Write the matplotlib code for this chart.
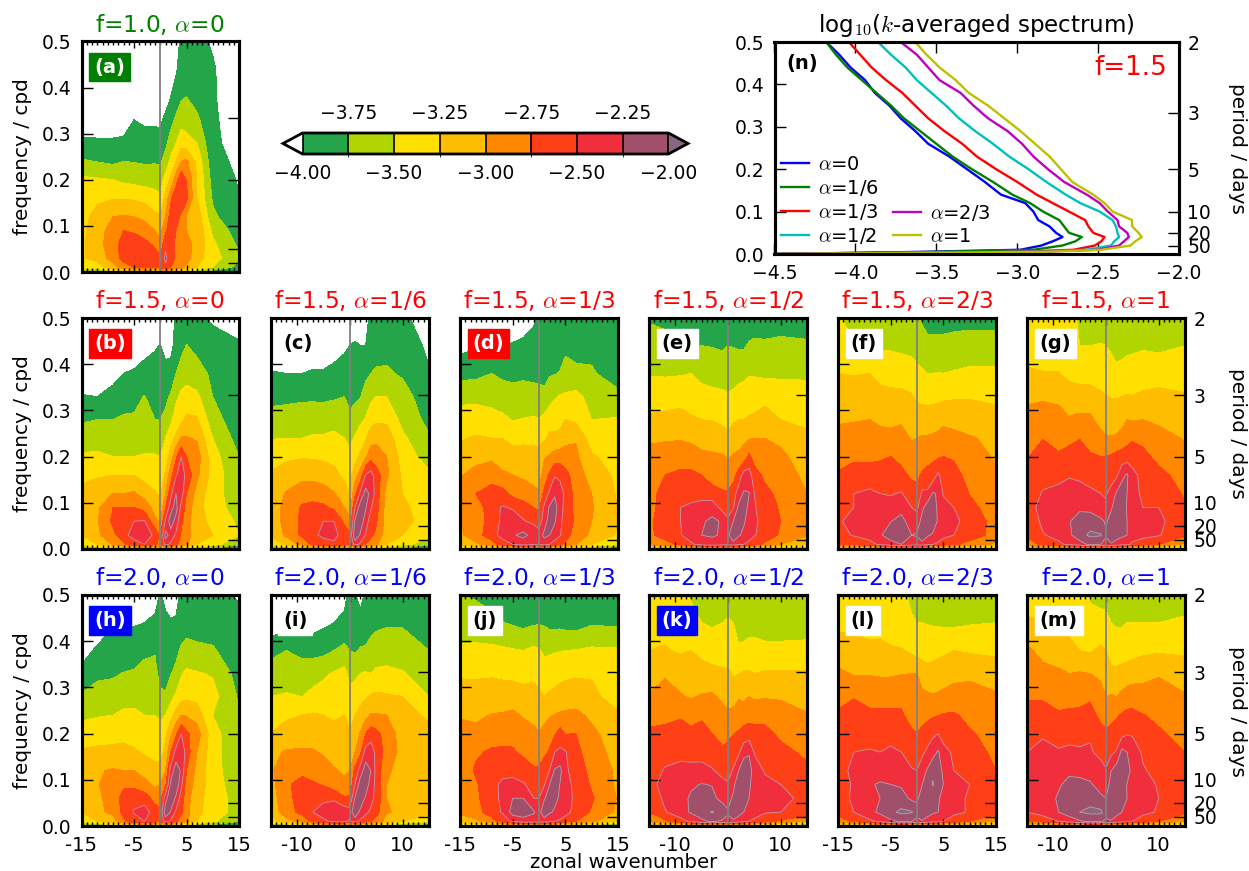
#!/usr/bin/env python3
"""Spectra panels: log10 power against zonal wavenumber and frequency"""

import numpy as np
import matplotlib
matplotlib.use('Agg')
import matplotlib.pyplot as plt
from matplotlib.colors import ListedColormap, BoundaryNorm

plt.rcParams['font.family'] = 'DejaVu Sans'
plt.rcParams['mathtext.fontset'] = 'cm'
plt.rcParams['axes.unicode_minus'] = False

W, H = 1249, 871

wavenumber = [-15, -12, -9, -7, -5, -3, -1, 0, 1, 2, 3, 4, 5, 7, 10, 15]
frequency = [.5, .44, .38, .33, .28, .24, .2, .16, .12, .09, .06, .03, .01, 0]

# values are -100*log10(power), rows run from f=0.5 down to f=0
a_vals = [
    [460, 460, 460, 460, 460, 460, 460, 450, 440, 425, 410, 395, 395, 395, 402, 420],
    [450, 450, 450, 450, 450, 450, 440, 430, 420, 410, 403, 390, 385, 392, 398, 415],
    [435, 435, 435, 435, 425, 425, 420, 415, 410, 400, 390, 378, 375, 385, 398, 412],
    [415, 415, 415, 410, 400, 402, 402, 403, 395, 385, 370, 360, 362, 370, 397, 410],
    [395, 396, 396, 396, 390, 395, 395, 395, 382, 362, 350, 335, 340, 350, 396, 408],
    [372, 376, 380, 375, 376, 378, 377, 378, 365, 345, 325, 300, 295, 332, 392, 405],
    [345, 347, 350, 355, 358, 360, 362, 362, 340, 320, 285, 255, 275, 325, 385, 402],
    [338, 330, 326, 327, 328, 333, 340, 345, 318, 280, 255, 250, 270, 325, 378, 399],
    [335, 315, 300, 298, 300, 305, 320, 322, 300, 262, 265, 280, 300, 310, 370, 395],
    [332, 310, 290, 275, 280, 290, 300, 308, 280, 255, 275, 290, 300, 305, 355, 388],
    [330, 310, 285, 265, 255, 265, 280, 295, 255, 265, 280, 290, 295, 305, 345, 380],
    [328, 315, 290, 265, 250, 250, 262, 270, 245, 265, 278, 285, 290, 315, 340, 370],
    [345, 340, 310, 290, 275, 270, 275, 270, 255, 275, 285, 295, 305, 325, 350, 385],
    [390, 380, 360, 340, 330, 320, 320, 330, 320, 330, 340, 350, 360, 370, 390, 410],
]
b_vals = [
    [440, 440, 440, 440, 440, 440, 430, 415, 420, 415, 395, 395, 393, 395, 403, 415],
    [430, 430, 425, 420, 415, 408, 402, 399, 408, 408, 390, 384, 374, 382, 392, 396],
    [420, 412, 405, 400, 397, 392, 392, 390, 392, 390, 375, 362, 360, 365, 380, 392],
    [398, 400, 395, 385, 382, 374, 385, 385, 380, 372, 355, 345, 340, 345, 375, 392],
    [378, 375, 375, 372, 372, 365, 375, 375, 370, 355, 338, 332, 320, 322, 365, 390],
    [362, 362, 362, 362, 362, 360, 362, 362, 350, 335, 320, 297, 298, 303, 350, 385],
    [347, 345, 350, 350, 350, 348, 348, 350, 340, 315, 280, 250, 275, 288, 340, 375],
    [330, 328, 325, 325, 325, 335, 340, 342, 320, 285, 252, 240, 255, 295, 335, 370],
    [320, 310, 300, 300, 297, 310, 322, 330, 300, 258, 225, 238, 275, 310, 340, 365],
    [318, 305, 275, 275, 275, 285, 310, 320, 275, 235, 215, 258, 285, 315, 340, 360],
    [315, 302, 270, 258, 250, 248, 295, 302, 245, 212, 235, 270, 290, 318, 330, 355],
    [325, 305, 282, 258, 240, 238, 255, 280, 215, 235, 255, 278, 285, 320, 325, 350],
    [340, 325, 298, 280, 262, 250, 270, 285, 240, 255, 270, 285, 295, 325, 340, 370],
    [390, 370, 360, 345, 330, 325, 330, 340, 330, 340, 345, 350, 360, 370, 380, 410],
]
c_vals = [
    [425, 425, 425, 425, 425, 425, 420, 415, 410, 410, 403, 398, 393, 390, 392, 420],
    [420, 418, 415, 412, 412, 408, 404, 400, 398, 400, 400, 390, 385, 382, 385, 405],
    [398, 400, 400, 398, 398, 395, 390, 390, 388, 385, 380, 375, 372, 372, 378, 398],
    [382, 382, 380, 380, 381, 378, 375, 385, 380, 376, 365, 355, 350, 350, 365, 390],
    [366, 362, 360, 358, 358, 358, 360, 368, 362, 355, 348, 335, 330, 330, 358, 382],
    [351, 350, 350, 348, 348, 345, 350, 355, 348, 338, 328, 310, 305, 310, 345, 372],
    [338, 330, 327, 328, 330, 332, 340, 345, 335, 320, 305, 285, 290, 300, 335, 362],
    [322, 312, 308, 308, 310, 318, 330, 335, 310, 290, 248, 240, 262, 295, 330, 345],
    [315, 298, 285, 285, 290, 298, 315, 325, 280, 245, 215, 232, 260, 310, 325, 340],
    [315, 292, 272, 268, 270, 280, 300, 315, 250, 212, 222, 248, 265, 312, 320, 338],
    [318, 290, 270, 258, 250, 250, 280, 295, 222, 210, 238, 262, 272, 312, 318, 335],
    [324, 295, 270, 255, 245, 242, 262, 270, 205, 228, 252, 270, 280, 315, 325, 340],
    [340, 320, 292, 270, 260, 255, 268, 275, 240, 255, 275, 285, 295, 325, 340, 370],
    [385, 375, 355, 340, 330, 325, 330, 335, 330, 335, 345, 350, 360, 370, 385, 410],
]
d_vals = [
    [425, 420, 420, 420, 415, 410, 403, 395, 395, 395, 395, 392, 392, 392, 395, 402],
    [408, 402, 400, 400, 398, 396, 393, 392, 392, 388, 386, 383, 378, 380, 382, 388],
    [384, 382, 375, 380, 382, 380, 384, 385, 388, 378, 376, 374, 370, 372, 372, 388],
    [355, 355, 358, 362, 365, 364, 362, 362, 365, 358, 352, 348, 346, 342, 360, 368],
    [342, 340, 342, 345, 351, 349, 348, 349, 345, 338, 335, 332, 325, 330, 350, 348],
    [328, 322, 325, 325, 335, 332, 332, 332, 330, 318, 320, 318, 308, 302, 338, 340],
    [315, 308, 305, 308, 312, 313, 315, 317, 302, 298, 290, 288, 288, 295, 322, 335],
    [302, 292, 285, 297, 300, 303, 307, 310, 290, 270, 252, 255, 268, 285, 312, 330],
    [298, 275, 265, 265, 283, 290, 295, 298, 268, 245, 228, 240, 255, 285, 300, 328],
    [300, 290, 260, 248, 252, 262, 275, 280, 245, 222, 215, 240, 258, 282, 298, 326],
    [300, 288, 265, 245, 240, 248, 255, 262, 238, 212, 222, 245, 260, 280, 300, 325],
    [305, 285, 262, 240, 228, 218, 235, 240, 218, 225, 238, 248, 265, 285, 305, 328],
    [320, 305, 285, 265, 250, 240, 245, 250, 240, 250, 260, 270, 280, 300, 325, 345],
    [360, 350, 345, 335, 325, 320, 325, 330, 325, 330, 340, 340, 350, 365, 385, 410],
]
e_vals = [
    [378, 380, 385, 385, 390, 390, 390, 392, 392, 395, 393, 390, 388, 385, 385, 385],
    [362, 368, 375, 377, 375, 376, 378, 375, 376, 378, 378, 372, 370, 372, 370, 372],
    [352, 353, 352, 350, 358, 360, 362, 362, 360, 358, 356, 352, 352, 355, 354, 355],
    [334, 334, 332, 336, 340, 343, 345, 348, 345, 340, 338, 335, 338, 332, 338, 338],
    [322, 320, 318, 322, 325, 326, 330, 335, 328, 325, 325, 323, 320, 315, 325, 330],
    [305, 303, 302, 305, 309, 312, 315, 320, 312, 310, 306, 302, 300, 300, 305, 320],
    [290, 288, 286, 288, 295, 296, 298, 302, 298, 295, 290, 270, 285, 290, 295, 312],
    [285, 275, 270, 270, 275, 285, 288, 290, 285, 265, 240, 238, 265, 280, 290, 305],
    [285, 265, 258, 260, 255, 266, 272, 272, 262, 238, 222, 224, 250, 268, 282, 300],
    [285, 262, 250, 245, 245, 235, 260, 262, 252, 220, 212, 232, 248, 262, 278, 298],
    [280, 262, 250, 240, 228, 220, 228, 245, 225, 205, 222, 235, 245, 260, 275, 296],
    [280, 265, 252, 235, 225, 222, 228, 230, 205, 222, 230, 238, 248, 262, 278, 298],
    [295, 285, 270, 255, 240, 235, 240, 245, 235, 245, 250, 258, 265, 280, 300, 320],
    [350, 345, 340, 330, 325, 320, 325, 330, 325, 330, 335, 340, 345, 355, 370, 390],
]
f_vals = [
    [348, 362, 366, 368, 370, 370, 372, 372, 378, 385, 385, 385, 385, 385, 385, 385],
    [340, 346, 353, 354, 354, 356, 358, 362, 366, 368, 368, 368, 368, 365, 362, 362],
    [325, 326, 325, 330, 333, 335, 338, 343, 347, 350, 350, 349, 350, 348, 346, 346],
    [316, 316, 317, 320, 320, 320, 323, 330, 332, 334, 333, 332, 330, 328, 327, 330],
    [303, 302, 300, 304, 306, 303, 315, 313, 312, 311, 310, 308, 305, 307, 311, 316],
    [292, 288, 295, 293, 293, 292, 302, 300, 298, 298, 297, 295, 292, 294, 298, 305],
    [285, 278, 280, 278, 275, 282, 290, 288, 285, 282, 280, 278, 275, 278, 292, 302],
    [272, 268, 265, 265, 265, 268, 280, 280, 272, 268, 265, 245, 262, 265, 285, 298],
    [262, 250, 245, 250, 252, 248, 262, 268, 245, 245, 222, 228, 252, 258, 276, 292],
    [258, 250, 242, 242, 240, 235, 250, 255, 230, 212, 205, 232, 242, 250, 268, 288],
    [252, 245, 235, 228, 226, 215, 240, 240, 215, 205, 210, 228, 240, 245, 258, 285],
    [258, 248, 238, 228, 212, 205, 225, 222, 205, 222, 228, 235, 244, 250, 260, 285],
    [275, 270, 260, 245, 235, 225, 235, 240, 235, 245, 250, 255, 262, 270, 285, 305],
    [345, 340, 335, 330, 320, 320, 325, 330, 325, 330, 335, 340, 345, 350, 360, 385],
]
g_vals = [
    [340, 340, 340, 345, 352, 360, 360, 362, 365, 370, 374, 372, 368, 365, 368, 360],
    [335, 337, 338, 340, 350, 350, 349, 350, 352, 358, 356, 354, 353, 352, 355, 350],
    [322, 324, 324, 332, 338, 338, 340, 343, 345, 345, 344, 343, 343, 340, 336, 340],
    [307, 304, 306, 312, 310, 312, 320, 324, 326, 326, 325, 323, 324, 320, 318, 322],
    [288, 285, 290, 298, 296, 296, 308, 314, 315, 315, 310, 300, 302, 300, 305, 312],
    [285, 276, 283, 280, 276, 285, 292, 298, 298, 296, 290, 284, 278, 282, 290, 302],
    [277, 262, 272, 268, 262, 272, 275, 275, 272, 268, 265, 262, 262, 268, 282, 292],
    [270, 258, 258, 252, 255, 258, 265, 268, 262, 255, 232, 222, 242, 258, 268, 285],
    [265, 248, 242, 240, 240, 246, 250, 252, 240, 222, 212, 225, 240, 255, 258, 278],
    [265, 238, 238, 235, 228, 232, 240, 247, 228, 210, 205, 228, 240, 250, 250, 272],
    [268, 245, 235, 226, 218, 212, 220, 228, 215, 205, 218, 225, 238, 242, 245, 265],
    [272, 252, 242, 230, 210, 195, 198, 222, 208, 215, 220, 225, 238, 242, 248, 270],
    [285, 270, 255, 245, 235, 220, 225, 235, 228, 235, 240, 245, 255, 265, 275, 305],
    [340, 335, 330, 325, 320, 315, 320, 325, 320, 325, 330, 335, 340, 345, 355, 385],
]
h_vals = [
    [435, 435, 430, 425, 420, 420, 410, 398, 405, 420, 415, 392, 392, 395, 395, 402],
    [430, 420, 402, 402, 402, 400, 395, 392, 396, 396, 395, 385, 384, 386, 388, 395],
    [412, 395, 392, 390, 388, 382, 377, 388, 392, 385, 380, 372, 368, 370, 372, 392],
    [392, 380, 378, 374, 372, 364, 368, 383, 384, 376, 370, 352, 345, 348, 352, 385],
    [372, 365, 364, 360, 358, 358, 362, 370, 372, 358, 345, 335, 330, 332, 342, 378],
    [355, 352, 350, 345, 345, 350, 350, 352, 350, 335, 315, 300, 302, 312, 350, 375],
    [340, 335, 335, 332, 335, 338, 345, 346, 330, 305, 280, 250, 270, 288, 340, 372],
    [322, 320, 318, 318, 322, 328, 332, 335, 318, 275, 240, 225, 262, 300, 340, 370],
    [318, 302, 298, 300, 300, 310, 318, 318, 300, 240, 212, 228, 275, 308, 340, 368],
    [318, 302, 285, 280, 282, 292, 305, 300, 280, 220, 205, 245, 285, 310, 338, 365],
    [318, 305, 290, 265, 258, 262, 285, 285, 235, 205, 230, 262, 290, 318, 335, 362],
    [325, 305, 295, 268, 248, 238, 262, 270, 208, 228, 255, 272, 292, 320, 335, 362],
    [340, 325, 310, 280, 260, 250, 265, 270, 240, 255, 270, 285, 295, 325, 345, 375],
    [390, 375, 365, 350, 335, 325, 330, 335, 330, 335, 345, 350, 360, 370, 385, 410],
]
i_vals = [
    [430, 430, 430, 430, 430, 430, 405, 395, 398, 410, 395, 392, 390, 390, 390, 392],
    [415, 412, 412, 410, 405, 400, 396, 392, 390, 390, 388, 382, 380, 378, 378, 385],
    [385, 375, 385, 385, 382, 375, 368, 375, 378, 373, 372, 368, 364, 360, 362, 375],
    [360, 360, 358, 356, 354, 348, 342, 358, 355, 350, 348, 350, 345, 345, 348, 362],
    [350, 348, 350, 346, 340, 338, 332, 343, 338, 332, 328, 322, 320, 322, 325, 350],
    [336, 330, 325, 322, 325, 328, 325, 330, 325, 318, 308, 298, 298, 300, 318, 328],
    [325, 312, 308, 310, 312, 318, 322, 324, 315, 298, 275, 262, 268, 285, 312, 320],
    [305, 298, 298, 298, 302, 308, 315, 315, 300, 280, 240, 235, 258, 285, 308, 318],
    [305, 280, 280, 285, 292, 298, 303, 300, 268, 238, 212, 225, 258, 298, 305, 315],
    [310, 278, 268, 272, 277, 288, 296, 295, 250, 212, 205, 240, 255, 300, 302, 315],
    [315, 280, 268, 255, 255, 255, 272, 270, 222, 205, 230, 242, 258, 300, 300, 315],
    [318, 285, 268, 250, 240, 228, 235, 240, 205, 232, 244, 255, 265, 298, 305, 318],
    [335, 310, 290, 270, 255, 245, 245, 255, 240, 255, 265, 275, 285, 310, 325, 345],
    [385, 375, 360, 345, 330, 325, 330, 335, 330, 335, 345, 350, 355, 365, 380, 405],
]
j_vals = [
    [375, 378, 385, 390, 392, 395, 395, 392, 393, 396, 396, 398, 398, 398, 398, 392],
    [362, 363, 368, 374, 378, 382, 378, 377, 378, 382, 382, 382, 384, 386, 378, 380],
    [346, 345, 345, 346, 348, 350, 345, 348, 354, 353, 352, 351, 350, 349, 346, 346],
    [328, 328, 328, 330, 332, 334, 330, 336, 340, 338, 336, 332, 330, 328, 327, 340],
    [315, 316, 312, 312, 310, 315, 316, 320, 325, 321, 318, 315, 314, 312, 320, 334],
    [302, 305, 299, 298, 296, 302, 306, 310, 308, 302, 299, 297, 295, 294, 305, 322],
    [292, 293, 285, 282, 283, 290, 295, 299, 292, 285, 278, 265, 276, 275, 294, 315],
    [288, 278, 272, 272, 272, 280, 285, 285, 280, 272, 250, 245, 248, 268, 288, 310],
    [290, 272, 262, 258, 260, 262, 272, 272, 262, 250, 222, 218, 245, 262, 282, 305],
    [292, 278, 258, 245, 240, 248, 258, 262, 252, 225, 208, 226, 240, 258, 278, 305],
    [290, 280, 260, 245, 225, 225, 250, 250, 228, 212, 220, 228, 238, 256, 272, 302],
    [295, 285, 262, 248, 215, 212, 222, 235, 205, 222, 228, 232, 242, 258, 278, 305],
    [315, 305, 285, 265, 245, 235, 238, 240, 238, 245, 250, 255, 262, 275, 295, 325],
    [355, 350, 345, 335, 325, 320, 325, 330, 325, 330, 335, 340, 345, 355, 370, 395],
]
k_vals = [
    [342, 345, 348, 352, 358, 362, 360, 362, 360, 365, 368, 368, 368, 370, 372, 372],
    [332, 333, 340, 343, 350, 353, 350, 347, 350, 356, 358, 357, 357, 358, 360, 358],
    [325, 323, 328, 325, 332, 336, 340, 342, 344, 348, 346, 344, 344, 346, 345, 345],
    [312, 302, 310, 315, 315, 318, 320, 320, 328, 326, 322, 322, 325, 322, 322, 322],
    [298, 293, 298, 302, 298, 296, 305, 310, 310, 302, 305, 300, 303, 302, 303, 310],
    [285, 280, 277, 280, 278, 280, 292, 295, 293, 290, 288, 285, 285, 283, 288, 298],
    [270, 270, 268, 272, 268, 275, 285, 280, 276, 272, 265, 262, 265, 268, 280, 290],
    [265, 258, 258, 256, 258, 262, 270, 268, 262, 255, 235, 228, 252, 258, 268, 280],
    [262, 248, 242, 245, 243, 248, 258, 258, 248, 225, 205, 212, 238, 252, 258, 270],
    [262, 238, 232, 228, 224, 226, 243, 248, 232, 208, 205, 220, 238, 245, 250, 262],
    [268, 245, 232, 222, 215, 220, 232, 235, 220, 200, 210, 225, 232, 245, 248, 252],
    [275, 252, 235, 222, 212, 198, 212, 222, 205, 215, 225, 232, 240, 248, 250, 255],
    [295, 280, 260, 245, 230, 222, 228, 232, 230, 238, 245, 250, 255, 265, 280, 300],
    [350, 345, 340, 330, 320, 315, 320, 325, 320, 325, 330, 335, 340, 350, 365, 395],
]
l_vals = [
    [338, 338, 338, 340, 342, 348, 352, 352, 355, 358, 360, 362, 362, 364, 362, 358],
    [330, 330, 330, 332, 338, 345, 349, 350, 350, 351, 352, 353, 354, 355, 352, 350],
    [315, 318, 322, 320, 322, 323, 330, 335, 337, 338, 335, 332, 330, 325, 328, 331],
    [295, 302, 302, 303, 303, 301, 300, 300, 310, 315, 314, 312, 310, 306, 305, 310],
    [282, 276, 280, 283, 283, 280, 289, 293, 295, 296, 298, 297, 295, 292, 290, 297],
    [272, 268, 272, 270, 270, 272, 283, 286, 285, 282, 278, 276, 273, 272, 282, 290],
    [265, 258, 260, 258, 260, 262, 272, 275, 268, 262, 255, 250, 262, 262, 272, 285],
    [260, 250, 248, 250, 245, 250, 262, 263, 255, 245, 235, 222, 240, 255, 265, 280],
    [258, 245, 240, 238, 240, 240, 248, 250, 235, 222, 205, 208, 232, 250, 250, 275],
    [258, 248, 228, 222, 225, 228, 240, 240, 225, 212, 198, 212, 225, 245, 250, 270],
    [255, 248, 228, 225, 218, 215, 230, 230, 212, 200, 215, 222, 232, 245, 252, 268],
    [265, 250, 232, 220, 205, 195, 198, 215, 200, 215, 222, 225, 238, 245, 252, 268],
    [290, 270, 255, 245, 230, 222, 225, 232, 228, 235, 240, 245, 250, 260, 275, 295],
    [345, 340, 335, 325, 315, 310, 315, 320, 315, 320, 325, 330, 335, 345, 360, 390],
]
m_vals = [
    [335, 335, 338, 338, 342, 352, 355, 355, 355, 358, 358, 358, 358, 358, 358, 356],
    [322, 324, 328, 330, 335, 345, 345, 346, 350, 352, 352, 350, 350, 350, 350, 348],
    [295, 308, 316, 320, 325, 328, 320, 325, 335, 340, 340, 338, 335, 330, 328, 330],
    [290, 292, 295, 300, 298, 300, 305, 308, 320, 318, 315, 312, 310, 308, 302, 310],
    [277, 278, 285, 288, 285, 278, 290, 300, 298, 300, 295, 290, 288, 290, 290, 298],
    [268, 265, 272, 268, 268, 268, 280, 285, 282, 278, 273, 268, 268, 274, 280, 288],
    [260, 252, 258, 258, 255, 252, 268, 272, 268, 262, 258, 252, 252, 262, 272, 282],
    [250, 245, 248, 245, 248, 248, 255, 262, 255, 248, 218, 225, 238, 253, 262, 275],
    [245, 240, 238, 230, 232, 235, 243, 248, 225, 212, 205, 210, 235, 248, 256, 270],
    [248, 238, 228, 218, 218, 222, 235, 238, 215, 208, 212, 226, 232, 242, 252, 268],
    [250, 238, 222, 205, 205, 208, 220, 225, 205, 215, 222, 225, 235, 242, 250, 265],
    [250, 240, 225, 212, 200, 195, 195, 215, 205, 218, 225, 232, 238, 245, 252, 268],
    [275, 265, 250, 240, 228, 220, 222, 230, 228, 235, 240, 245, 250, 260, 275, 300],
    [340, 335, 330, 325, 315, 310, 315, 320, 315, 320, 325, 330, 335, 345, 360, 390],
]

# k-averaged spectra for f=1.5
avg_freq = [.5, .47, .44, .41, .38, .35, .32, .29, .26, .23, .2, .17, .14, .12,
            .1, .08, .065, .05, .04, .03, .02, .01, .005, 0]
avg_0 = [-4.18, -4.10, -4.03, -3.94, -3.88, -3.79, -3.72, -3.63, -3.55, -3.42, -3.31, -3.2,
         -3.10, -2.95, -2.9, -2.87, -2.8, -2.76, -2.72, -2.78, -2.85, -2.98, -3.6, -4.5]
avg_1_6 = [-4.18, -4.12, -4.05, -3.96, -3.87, -3.78, -3.7, -3.6, -3.5, -3.4, -3.28, -3.15,
           -3.03, -2.92, -2.84, -2.74, -2.71, -2.68, -2.6, -2.64, -2.72, -2.9, -3.5, -4.5]
avg_1_3 = [-4.04, -3.97, -3.9, -3.81, -3.71, -3.63, -3.55, -3.45, -3.34, -3.25, -3.13, -3.0,
           -2.88, -2.78, -2.68, -2.58, -2.56, -2.53, -2.46, -2.48, -2.52, -2.65, -3.0, -4.5]
avg_1_2 = [-3.86, -3.78, -3.69, -3.62, -3.53, -3.44, -3.36, -3.26, -3.15, -3.05, -2.93, -2.82,
           -2.7, -2.61, -2.49, -2.41, -2.39, -2.38, -2.37, -2.4, -2.42, -2.57, -2.95, -4.5]
avg_2_3 = [-3.72, -3.62, -3.55, -3.48, -3.35, -3.27, -3.18, -3.06, -2.97, -2.9, -2.81, -2.71,
           -2.57, -2.49, -2.44, -2.38, -2.37, -2.32, -2.31, -2.34, -2.37, -2.5, -2.9, -4.5]
avg_1 = [-3.63, -3.56, -3.48, -3.38, -3.3, -3.18, -3.08, -2.98, -2.89, -2.8, -2.73, -2.66,
         -2.53, -2.46, -2.41, -2.29, -2.29, -2.25, -2.23, -2.27, -2.3, -2.48, -2.85, -4.5]

levels = [-4, -3.75, -3.5, -3.25, -3, -2.75, -2.5, -2.25, -2]
level_colours = ['#25a54a', '#b0d500', '#ffe000', '#ffbd00', '#ff8800',
                 '#ff4016', '#f02e3c', '#a0506a']
over_colour = '#866880'
period_ticks = [2, 3, 5, 10, 20, 50]

cmap = ListedColormap(level_colours)
cmap.set_under('white')
cmap.set_over(over_colour)
norm = BoundaryNorm(levels, cmap.N)

GREEN, RED, BLUE = '#008000', '#ff0000', '#0000ff'
col_x = [(81.5, 239), (270.5, 429), (460, 618), (649, 807), (838, 996), (1027, 1185)]
row_y = [(41.5, 272), (318, 549), (595, 826)]

# name, values, row, col, title, title colour, box colour
panels = [
    ('(a)', a_vals, 0, 0, r'f=1.0, $\alpha$=0', GREEN, GREEN),
    ('(b)', b_vals, 1, 0, r'f=1.5, $\alpha$=0', RED, RED),
    ('(c)', c_vals, 1, 1, r'f=1.5, $\alpha$=1/6', RED, 'white'),
    ('(d)', d_vals, 1, 2, r'f=1.5, $\alpha$=1/3', RED, RED),
    ('(e)', e_vals, 1, 3, r'f=1.5, $\alpha$=1/2', RED, 'white'),
    ('(f)', f_vals, 1, 4, r'f=1.5, $\alpha$=2/3', RED, 'white'),
    ('(g)', g_vals, 1, 5, r'f=1.5, $\alpha$=1', RED, 'white'),
    ('(h)', h_vals, 2, 0, r'f=2.0, $\alpha$=0', BLUE, BLUE),
    ('(i)', i_vals, 2, 1, r'f=2.0, $\alpha$=1/6', BLUE, 'white'),
    ('(j)', j_vals, 2, 2, r'f=2.0, $\alpha$=1/3', BLUE, 'white'),
    ('(k)', k_vals, 2, 3, r'f=2.0, $\alpha$=1/2', BLUE, BLUE),
    ('(l)', l_vals, 2, 4, r'f=2.0, $\alpha$=2/3', BLUE, 'white'),
    ('(m)', m_vals, 2, 5, r'f=2.0, $\alpha$=1', BLUE, 'white'),
]


def px_axes(fig, x0, x1, y0, y1):
    return fig.add_axes([x0 / W, 1 - y1 / H, (x1 - x0) / W, (y1 - y0) / H])


def period_axis(ax, labelled):
    right = ax.twinx()
    right.set_ylim(0, .5)
    right.set_yticks([1 / p for p in period_ticks])
    right.tick_params(axis='y', direction='in', length=8, width=1, labelsize=13.5, pad=6,
                      labelright=labelled)
    right.set_yticklabels([str(p) for p in period_ticks] if labelled else [])
    for s in right.spines.values():
        s.set_linewidth(2.2)
    return right


fig = plt.figure(figsize=(W / 100, H / 100), dpi=100)
k = np.array(wavenumber)
f = np.array(frequency)[::-1]
cf = None

for name, vals, row, col, title, title_col, box in panels:
    ax = px_axes(fig, col_x[col][0], col_x[col][1], row_y[row][0], row_y[row][1])
    field = -np.array(vals)[::-1] / 100.0
    cf = ax.contourf(k, f, field, levels=levels, cmap=cmap, norm=norm, extend='both')
    ax.contour(k, f, field, levels=[-2.5, -2.25, -2.0], colors='#c79aa5', linewidths=.6,
               linestyles='solid')
    ax.axvline(0, color='gray', lw=1.3)
    ax.set_xlim(-15, 15)
    ax.set_ylim(0, .5)

    ax.set_xticks(range(-15, 16), minor=True)
    if col % 2 == 0:
        ax.set_xticks([-15, -5, 5, 15])
    else:
        ax.set_xticks([-10, 0, 10])
    ax.set_yticks([0, .1, .2, .3, .4, .5])
    ax.tick_params(axis='x', which='major', direction='in', length=5, width=1, top=True,
                   labelsize=14, pad=7, labelbottom=(row == 2))
    ax.tick_params(axis='x', which='minor', direction='in', length=3, width=1, top=True)
    ax.tick_params(axis='y', direction='in', length=8, width=1, labelsize=13.5, pad=7,
                   labelleft=(col == 0))
    for s in ax.spines.values():
        s.set_linewidth(2.2)
    ax.set_title(title, color=title_col, fontsize=16.8, pad=7)
    if col == 0:
        ax.set_ylabel('frequency / cpd', fontsize=14.4, labelpad=7)
    period_axis(ax, col == 5)

    ax.text(.08, .93, name, transform=ax.transAxes, ha='left', va='top',
            fontsize=14, fontweight='bold', color='white' if box != 'white' else 'black',
            bbox=dict(facecolor=box, edgecolor=box, pad=3.5), zorder=5)

# colour bar
cax = px_axes(fig, 283, 688, 133, 154)
cb = fig.colorbar(cf, cax=cax, orientation='horizontal', extend='both', drawedges=True,
                  extendfrac=.0533)
cb.outline.set_linewidth(2)
cb.dividers.set_linewidth(1.2)
cb.set_ticks([-4, -3.5, -3, -2.5, -2])
cb.set_ticklabels(['\u22124.00', '\u22123.50', '\u22123.00', '\u22122.50', '\u22122.00'])
cax.tick_params(axis='x', length=0, labelsize=13.5, pad=7)
cax_top = cax.secondary_xaxis('top')
cax_top.set_xticks([-3.75, -3.25, -2.75, -2.25])
cax_top.set_xticklabels(['\u22123.75', '\u22123.25', '\u22122.75', '\u22122.25'])
cax_top.tick_params(axis='x', length=0, labelsize=13.5, pad=7)
cax_top.spines['top'].set_visible(False)

# k-averaged panel
ax = px_axes(fig, 774.5, 1179, 42, 254)
line_0, = ax.plot(avg_0, avg_freq, color='b', lw=1.7, label=r'$\alpha$=0')
line_1, = ax.plot(avg_1_6, avg_freq, color='g', lw=1.7, label=r'$\alpha$=1/6')
line_2, = ax.plot(avg_1_3, avg_freq, color='r', lw=1.7, label=r'$\alpha$=1/3')
line_3, = ax.plot(avg_1_2, avg_freq, color='c', lw=1.7, label=r'$\alpha$=1/2')
line_4, = ax.plot(avg_2_3, avg_freq, color='m', lw=1.7, label=r'$\alpha$=2/3')
line_5, = ax.plot(avg_1, avg_freq, color='y', lw=1.7, label=r'$\alpha$=1')
ax.set_xlim(-4.5, -2)
ax.set_ylim(0, .5)
ax.set_xticks([-4.5, -4, -3.5, -3, -2.5, -2])
ax.set_xticklabels(['\u22124.5', '\u22124.0', '\u22123.5', '\u22123.0', '\u22122.5', '\u22122.0'])
ax.set_yticks([0, .1, .2, .3, .4, .5])
ax.tick_params(axis='x', direction='in', length=8, width=1, top=True, labelsize=13.5, pad=7)
ax.tick_params(axis='y', direction='in', length=8, width=1, labelsize=13.5, pad=7)
for s in ax.spines.values():
    s.set_linewidth(2.2)
ax.set_title(r'log$_{10}$($k$-averaged spectrum)', fontsize=16.6, pad=7)
ax.text(.03, .945, '(n)', transform=ax.transAxes, ha='left', va='top', fontsize=14,
        fontweight='bold')
ax.text(.97, .94, 'f=1.5', transform=ax.transAxes, ha='right', va='top', fontsize=18.8, color=RED)
leg_a = ax.legend(handles=[line_0, line_1, line_2, line_3], loc='lower left', frameon=False,
                  fontsize=14, bbox_to_anchor=(-.017, -.025), borderpad=.2, labelspacing=.2,
                  handlelength=1.45, handletextpad=.45)
ax.add_artist(leg_a)
ax.legend(handles=[line_4, line_5], loc='lower left', frameon=False, fontsize=14,
          bbox_to_anchor=(.26, -.025), borderpad=.2, labelspacing=.2,
          handlelength=1.45, handletextpad=.45)
period_axis(ax, True)

fig.text(624 / W, 1 - 862 / H, 'zonal wavenumber', ha='center', va='center', fontsize=14.2)
fig.text(1238 / W, 1 - 148 / H, 'period / days', ha='center', va='center', fontsize=14.4, rotation=270)
fig.text(1238 / W, 1 - 433 / H, 'period / days', ha='center', va='center', fontsize=14.4, rotation=270)
fig.text(1238 / W, 1 - 711 / H, 'period / days', ha='center', va='center', fontsize=14.4, rotation=270)

fig.savefig('out.png', dpi=100)
plt.close(fig)
